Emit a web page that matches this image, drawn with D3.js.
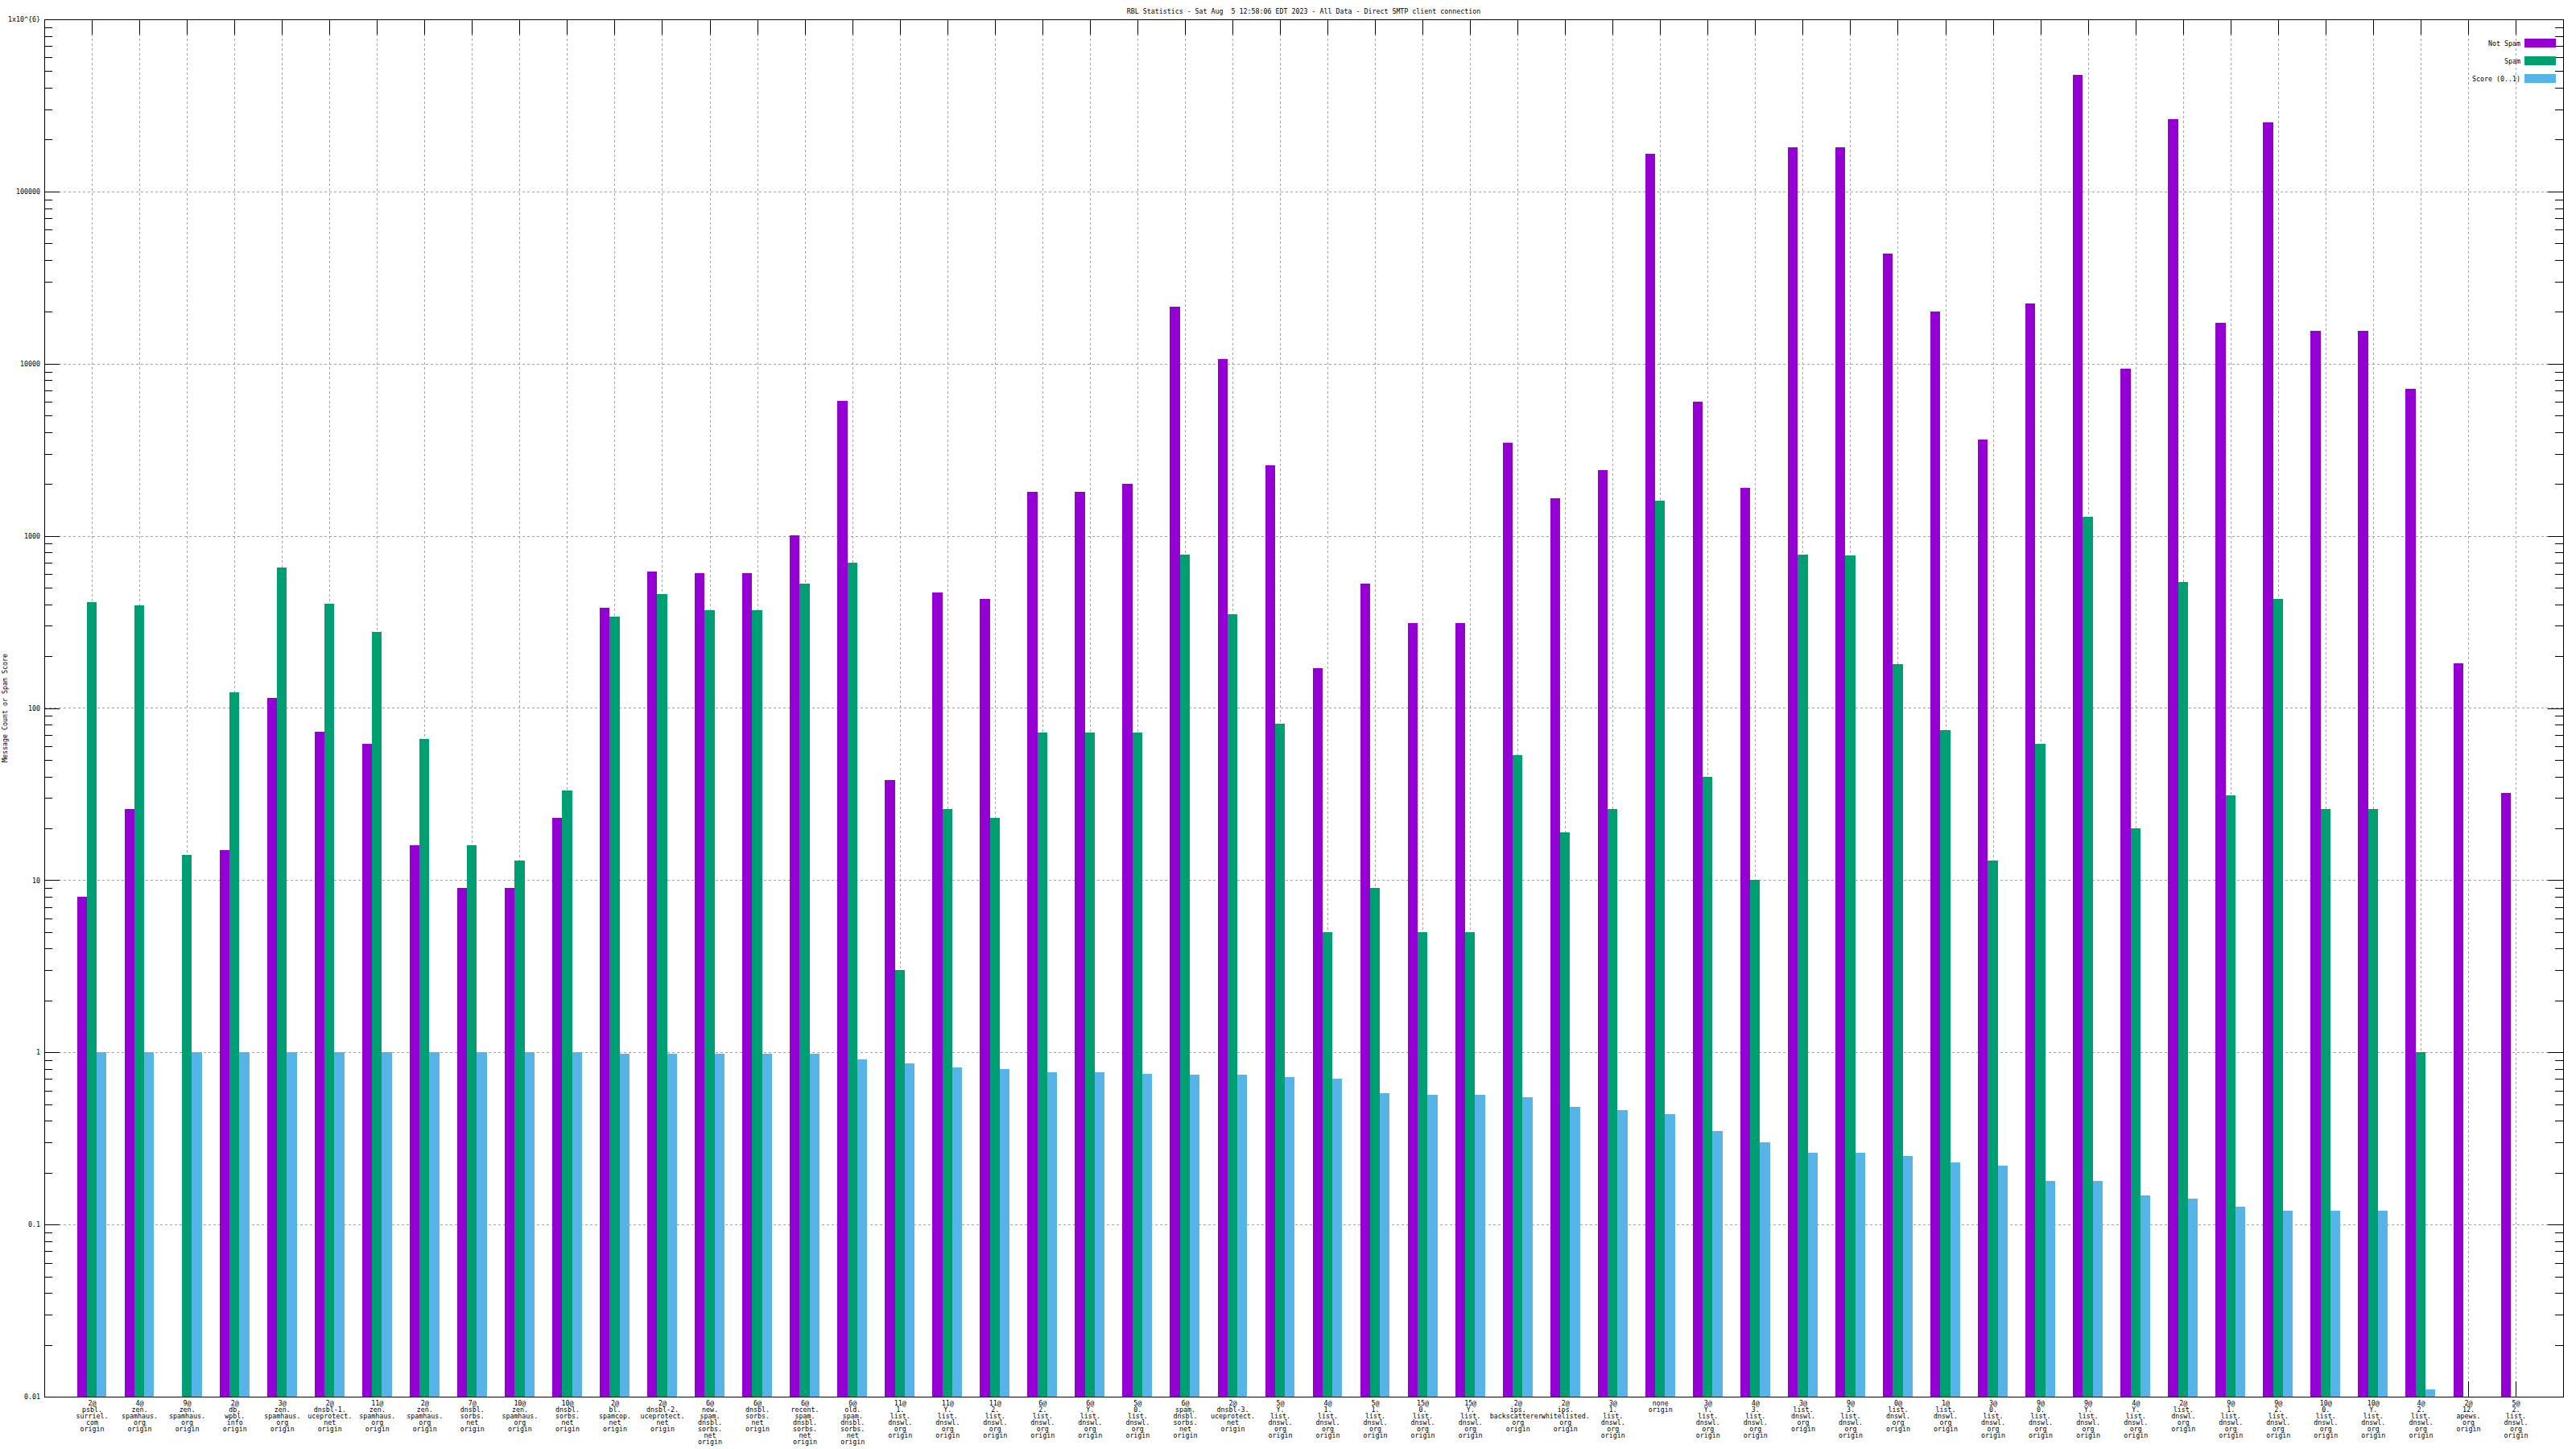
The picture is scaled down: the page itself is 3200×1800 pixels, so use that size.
<!DOCTYPE html>
<html>
<head>
<meta charset="utf-8">
<script src="https://cdn.jsdelivr.net/npm/d3@7"></script>
<style>
  html, body { margin: 0; padding: 0; background: #ffffff; }
  svg { display: block; }
  text { font-family: "DejaVu Sans Mono", "Liberation Mono", monospace; fill: #000; }
</style>
</head>
<body>
<svg id="chart" width="3200" height="1800"></svg>
<script>
// ---------------- DATA ----------------
const titleText = "RBL Statistics - Sat Aug  5 12:58:06 EDT 2023 - All Data - Direct SMTP client connection";
const yAxisLabel = "Message Count or Spam Score";
const seriesNames = ["Not Spam", "Spam", "Score (0..1)"];
const seriesColors = ["#9400d3", "#009e73", "#56b4e9"];

const categories = [
  "2@\npsbl.\nsurriel.\ncom\norigin",
  "4@\nzen.\nspamhaus.\norg\norigin",
  "9@\nzen.\nspamhaus.\norg\norigin",
  "2@\ndb.\nwpbl.\ninfo\norigin",
  "3@\nzen.\nspamhaus.\norg\norigin",
  "2@\ndnsbl-1.\nuceprotect.\nnet\norigin",
  "11@\nzen.\nspamhaus.\norg\norigin",
  "2@\nzen.\nspamhaus.\norg\norigin",
  "7@\ndnsbl.\nsorbs.\nnet\norigin",
  "10@\nzen.\nspamhaus.\norg\norigin",
  "10@\ndnsbl.\nsorbs.\nnet\norigin",
  "2@\nbl.\nspamcop.\nnet\norigin",
  "2@\ndnsbl-2.\nuceprotect.\nnet\norigin",
  "6@\nnew.\nspam.\ndnsbl.\nsorbs.\nnet\norigin",
  "6@\ndnsbl.\nsorbs.\nnet\norigin",
  "6@\nrecent.\nspam.\ndnsbl.\nsorbs.\nnet\norigin",
  "6@\nold.\nspam.\ndnsbl.\nsorbs.\nnet\norigin",
  "11@\n1.\nlist.\ndnswl.\norg\norigin",
  "11@\nY.\nlist.\ndnswl.\norg\norigin",
  "11@\n2.\nlist.\ndnswl.\norg\norigin",
  "6@\n2.\nlist.\ndnswl.\norg\norigin",
  "6@\nY.\nlist.\ndnswl.\norg\norigin",
  "5@\n0.\nlist.\ndnswl.\norg\norigin",
  "6@\nspam.\ndnsbl.\nsorbs.\nnet\norigin",
  "2@\ndnsbl-3.\nuceprotect.\nnet\norigin",
  "5@\nY.\nlist.\ndnswl.\norg\norigin",
  "4@\n1.\nlist.\ndnswl.\norg\norigin",
  "5@\n1.\nlist.\ndnswl.\norg\norigin",
  "15@\n0.\nlist.\ndnswl.\norg\norigin",
  "15@\nY.\nlist.\ndnswl.\norg\norigin",
  "2@\nips.\nbackscatterer.\norg\norigin",
  "2@\nips.\nwhitelisted.\norg\norigin",
  "3@\n1.\nlist.\ndnswl.\norg\norigin",
  "none\norigin",
  "3@\nY.\nlist.\ndnswl.\norg\norigin",
  "4@\n3.\nlist.\ndnswl.\norg\norigin",
  "3@\nlist.\ndnswl.\norg\norigin",
  "9@\n3.\nlist.\ndnswl.\norg\norigin",
  "0@\nlist.\ndnswl.\norg\norigin",
  "1@\nlist.\ndnswl.\norg\norigin",
  "3@\n0.\nlist.\ndnswl.\norg\norigin",
  "9@\n0.\nlist.\ndnswl.\norg\norigin",
  "9@\nY.\nlist.\ndnswl.\norg\norigin",
  "4@\nY.\nlist.\ndnswl.\norg\norigin",
  "2@\nlist.\ndnswl.\norg\norigin",
  "9@\n1.\nlist.\ndnswl.\norg\norigin",
  "9@\n2.\nlist.\ndnswl.\norg\norigin",
  "10@\n0.\nlist.\ndnswl.\norg\norigin",
  "10@\nY.\nlist.\ndnswl.\norg\norigin",
  "4@\n2.\nlist.\ndnswl.\norg\norigin",
  "2@\n12.\napews.\norg\norigin",
  "5@\n2.\nlist.\ndnswl.\norg\norigin"
];

const notSpam = [8, 26, null, 15, 114, 73, 62, 16, 9, 9, 23, 380, 620, 610, 610, 1010,
  6100, 38, 470, 430, 1800, 1800, 2000, 21500, 10600, 2560, 170, 525, 310, 310,
  3470, 1650, 2400, 166000, 6000, 1900, 181000, 181000, 43400, 20000, 3630, 22400,
  475000, 9300, 264000, 17300, 252000, 15500, 15500, 7160, 182, 32];

const spam = [410, 394, 14, 123, 653, 403, 277, 66, 16, 13, 33, 338, 459, 369, 369, 525,
  698, 3, 26, 23, 72, 72, 72, 780, 352, 81, 5, 9, 5, 5,
  53, 19, 26, 1607, 40, 10, 780, 770, 179, 74, 13, 62,
  1290, 20, 537, 31, 430, 26, 26, 1, null, null];

const score = [1, 1, 1, 1, 1, 1, 1, 1, 1, 1, 1, 0.98, 0.98, 0.98, 0.98, 0.98,
  0.91, 0.86, 0.82, 0.80, 0.77, 0.77, 0.75, 0.74, 0.74, 0.72, 0.70, 0.58, 0.565, 0.565,
  0.55, 0.48, 0.46, 0.44, 0.35, 0.30, 0.26, 0.26, 0.25, 0.23, 0.22, 0.18,
  0.18, 0.148, 0.142, 0.127, 0.12, 0.12, 0.12, 0.011, null, null];

const yTickValues = [0.01, 0.1, 1, 10, 100, 1000, 10000, 100000, 1000000];
const yTickLabels = ["0.01", "0.1", "1", "10", "100", "1000", "10000", "100000", "1x10^{6}"];

// ---------------- LAYOUT ----------------
const W = 3200, H = 1800;
const plot = { left: 55, right: 3184, top: 24, bottom: 1735 };
const FONT = 8.3;
const majorTick = 19, minorTick = 10;

const svg = d3.select("#chart");

const x = d3.scaleLinear().domain([-1, categories.length]).range([plot.left, plot.right]);
const y = d3.scaleLog().domain([0.01, 1000000]).range([plot.bottom, plot.top]);

const idx = d3.range(categories.length);
const barW = 0.208; // in category units

// minor tick values (2..9 per decade)
const minorVals = [];
for (let e = -2; e < 6; e++) for (let m = 2; m <= 9; m++) minorVals.push(m * Math.pow(10, e));

// ---------------- GRID ----------------
const grid = svg.append("g").attr("stroke", "#a0a0a0").attr("stroke-width", 1)
  .attr("stroke-dasharray", "3,3").attr("shape-rendering", "crispEdges");
grid.selectAll("line.h").data(yTickValues.slice(1, -1)).join("line")
  .attr("x1", plot.left).attr("x2", plot.right)
  .attr("y1", d => Math.round(y(d)) + 0.5).attr("y2", d => Math.round(y(d)) + 0.5);
grid.selectAll("line.v").data(idx).join("line")
  .attr("y1", plot.top).attr("y2", plot.bottom)
  .attr("x1", d => Math.round(x(d)) + 0.5).attr("x2", d => Math.round(x(d)) + 0.5);

// ---------------- AXES (ticks) ----------------
function styleAxis(g) {
  g.select(".domain").remove();
  g.selectAll(".tick line").attr("stroke", "#000").attr("shape-rendering", "crispEdges");
  g.selectAll("text").style("font-family", "DejaVu Sans Mono, monospace").style("font-size", FONT + "px").attr("fill", "#000");
}

// left major
svg.append("g").attr("transform", `translate(${plot.left},0)`)
  .call(d3.axisLeft(y).tickValues(yTickValues).tickSize(-majorTick).tickPadding(5)
    .tickFormat((d, i) => yTickLabels[i]))
  .call(styleAxis);
// left minor
svg.append("g").attr("transform", `translate(${plot.left},0)`)
  .call(d3.axisLeft(y).tickValues(minorVals).tickSize(-minorTick).tickFormat(""))
  .call(styleAxis);
// right major/minor
svg.append("g").attr("transform", `translate(${plot.right},0)`)
  .call(d3.axisRight(y).tickValues(yTickValues).tickSize(-majorTick).tickFormat(""))
  .call(styleAxis);
svg.append("g").attr("transform", `translate(${plot.right},0)`)
  .call(d3.axisRight(y).tickValues(minorVals).tickSize(-minorTick).tickFormat(""))
  .call(styleAxis);
// top
svg.append("g").attr("transform", `translate(0,${plot.top})`)
  .call(d3.axisTop(x).tickValues(idx).tickSize(-majorTick).tickFormat(""))
  .call(styleAxis);
// bottom with multi-line labels
const bottomAxis = svg.append("g").attr("transform", `translate(0,${plot.bottom})`)
  .call(d3.axisBottom(x).tickValues(idx).tickSize(-majorTick).tickPadding(0)
    .tickFormat(i => categories[i]))
  .call(styleAxis);
bottomAxis.selectAll(".tick text").each(function(i) {
  const t = d3.select(this);
  const lines = categories[i].split("\n");
  t.text(null).attr("y", 0).attr("dy", null).attr("text-anchor", "middle");
  lines.forEach((ln, k) => {
    t.append("tspan").attr("x", 0).attr("y", 11 + k * 8).text(ln);
  });
});

// ---------------- BARS ----------------
const seriesData = [notSpam, spam, score];
seriesData.forEach((vals, s) => {
  svg.append("g").attr("fill", seriesColors[s]).attr("shape-rendering", "crispEdges")
    .selectAll("rect")
    .data(idx.filter(i => vals[i] != null && vals[i] > 0.01))
    .join("rect")
    .attr("x", i => x(i + (s - 1.5) * barW))
    .attr("width", i => x(i + (s - 0.5) * barW) - x(i + (s - 1.5) * barW))
    .attr("y", i => y(vals[i]))
    .attr("height", i => y(0.01) - y(vals[i]));
});

// ---------------- BORDER ----------------
svg.append("rect")
  .attr("x", plot.left + 0.5).attr("y", plot.top + 0.5)
  .attr("width", plot.right - plot.left).attr("height", plot.bottom - plot.top)
  .attr("fill", "none").attr("stroke", "#000").attr("stroke-width", 1)
  .attr("shape-rendering", "crispEdges");

// ---------------- TITLE / LABELS ----------------
svg.append("text")
  .attr("x", (plot.left + plot.right) / 2).attr("y", 17)
  .attr("text-anchor", "middle").style("font-size", FONT + "px")
  .style("white-space", "pre").attr("xml:space", "preserve")
  .text(titleText);

svg.append("text")
  .attr("transform", `translate(9,${(plot.top + plot.bottom) / 2}) rotate(-90)`)
  .attr("text-anchor", "middle").style("font-size", FONT + "px")
  .text(yAxisLabel);

// ---------------- LEGEND ----------------
const legend = svg.append("g");
seriesNames.forEach((name, s) => {
  const cy = 53.5 + s * 22;
  legend.append("rect")
    .attr("x", 3136).attr("y", cy - 5.5).attr("width", 39).attr("height", 11)
    .attr("fill", seriesColors[s]);
  legend.append("text")
    .attr("x", 3131).attr("y", cy + 3)
    .attr("text-anchor", "end").style("font-size", FONT + "px")
    .text(name);
});
</script>
</body>
</html>
